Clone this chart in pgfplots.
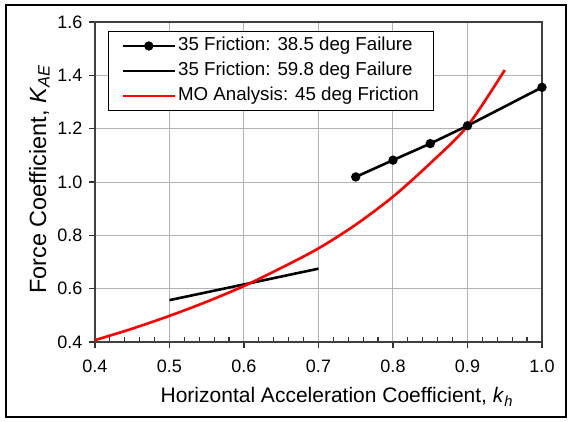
\documentclass[border=0pt]{standalone}
\usepackage{pgfplots}
\pgfplotsset{compat=1.18}
\usepackage{fontspec}
\setmainfont{Liberation Sans}

\begin{document}
\begin{tikzpicture}
% page frame and outer border
\useasboundingbox (-95pt,-79pt) rectangle (473pt,342pt);
\draw[line width=1.2pt, black] (-89pt,-75pt) rectangle (471pt,337pt);
\begin{axis}[
  at={(0pt,0pt)}, anchor=south west,
  scale only axis, width=447pt, height=320pt,
  xmin=0.4, xmax=1.0, ymin=0.4, ymax=1.6,
  xtick={0.4,0.5,0.6,0.7,0.8,0.9,1.0},
  ytick={0.4,0.6,0.8,1.0,1.2,1.4,1.6},
  minor x tick num=4,
  xtick pos=bottom, ytick pos=left,
  tick align=outside,
  major tick length=6pt, minor tick length=5pt,
  minor x tick style={yshift=5pt},
  tick style={black!80, line width=1.2pt},
  axis line style={black!75, line width=1.6pt},
  grid=major,
  major grid style={gray!60, line width=1pt},
  /pgf/number format/fixed,
  /pgf/number format/fixed zerofill,
  /pgf/number format/precision=1,
  /pgf/number format/assume math mode=true,
  ticklabel style={font=\fontsize{18}{20}\selectfont},
  xticklabel style={yshift=-8pt},
  yticklabel style={xshift=-3pt},
  xlabel={Horizontal Acceleration Coefficient, \textit{k}\textsubscript{\textit{h}}},
  ylabel={Force Coefficient, \textit{K}\textsubscript{\textit{AE}}},
  xlabel style={font=\fontsize{21}{24}\selectfont,
    at={(axis description cs:0.541,-0.1906)}, anchor=base},
  ylabel style={font=\fontsize{23.5}{26}\selectfont,
    at={(axis description cs:-0.1096,0.509)}, anchor=base, rotate=0},
  legend style={
    at={(axis description cs:0.0291,0.972)}, anchor=north west,
    draw=black, line width=1pt, fill=white,
    font=\fontsize{18.7}{21}\selectfont,
    inner xsep=13pt, inner ysep=2pt,
    nodes={text height=13.5pt, text depth=4.5pt, inner ysep=3.5pt},
  },
  legend cell align=left,
  legend image code/.code={
    \draw[mark repeat=2, mark phase=2] plot coordinates {(0pt,0pt) (26pt,0pt) (52pt,0pt)};
  },
]
% 35 Friction: 38.5 deg failure surface
\addplot[black, line width=2.6pt, mark=*, mark size=3.3pt, mark options={solid}]
  coordinates {(0.75,1.019) (0.80,1.082) (0.85,1.144) (0.90,1.211) (1.00,1.355)};
\addlegendentry{35 Friction: 38.5 deg Failure}
% 35 Friction: 59.8 deg failure surface
\addplot[black, line width=2.6pt, mark=none]
  coordinates {(0.50,0.557) (0.60,0.616) (0.70,0.675)};
\addlegendentry{35 Friction: 59.8 deg Failure}
% Mononobe-Okabe analysis
\addplot[red, line width=2.6pt, mark=none, smooth]
  coordinates {(0.40,0.407) (0.45,0.450) (0.50,0.498) (0.55,0.551) (0.60,0.610)
               (0.65,0.678) (0.70,0.751) (0.75,0.840) (0.80,0.945) (0.85,1.070)
               (0.90,1.210) (0.95,1.420)};
\addlegendentry{MO Analysis: 45 deg Friction}
\end{axis}
\end{tikzpicture}
\end{document}
